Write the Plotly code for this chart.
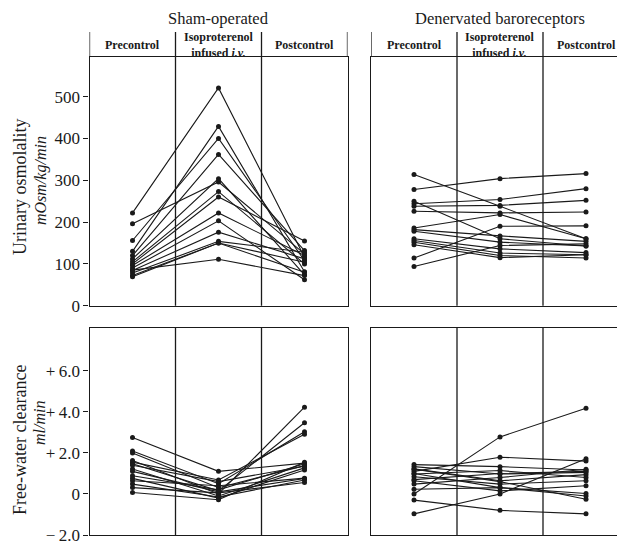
import plotly.graph_objects as go

# ---------------- data ----------------
phases = [0.5, 1.5, 2.5]  # Precontrol, Isoproterenol infused i.v., Postcontrol
phase_labels = ["Precontrol", "Isoproterenol<br>infused <i>i.v.</i>", "Postcontrol"]

# Urinary osmolality (mOsm/kg/min) - sham-operated
sham_osm_pre = [222, 196, 156, 130, 120, 112, 105, 100, 96, 90, 84, 78, 72, 69, 85]
sham_osm_mid = [521, 296, 400, 429, 362, 304, 273, 260, 222, 203, 176, 154, 150, 150, 111]
sham_osm_post = [116, 124, 108, 81, 132, 74, 100, 155, 120, 62, 112, 128, 104, 80, 72]

# Urinary osmolality - denervated baroreceptors
den_osm_pre = [314, 278, 250, 244, 238, 226, 186, 114, 94, 182, 178, 160, 156, 152, 146]
den_osm_mid = [238, 304, 160, 254, 240, 222, 218, 190, 144, 167, 152, 136, 126, 120, 115]
den_osm_post = [160, 316, 143, 280, 252, 224, 160, 191, 148, 154, 143, 127, 122, 114, 122]

# Free-water clearance (ml/min) - sham-operated
sham_fwc_pre = [2.75, 2.09, 1.99, 1.63, 1.55, 1.47, 1.22, 0.89, 0.76, 0.64, 0.48, 0.31, 0.07, 1.40, 1.10]
sham_fwc_mid = [1.10, 0.50, 0.30, 0.00, 0.68, 0.15, -0.10, 0.20, -0.20, 0.40, -0.15, 0.05, -0.28, 0.60, 0.10]
sham_fwc_post = [1.50, 3.03, 1.38, 4.23, 2.91, 3.47, 1.27, 1.47, 1.17, 0.77, 0.68, 0.56, 1.55, 1.35, 0.75]

# Free-water clearance - denervated baroreceptors
den_fwc_pre = [0.00, -0.97, 1.10, 1.43, 1.33, 1.22, 0.97, 0.84, 0.64, 0.48, -0.30, 0.23, 1.00, 1.20, 0.70]
den_fwc_mid = [2.78, 0.00, 1.79, 1.33, 0.97, 0.64, 1.14, 0.48, 0.15, 0.80, -0.80, 0.31, 0.31, 0.60, 1.00]
den_fwc_post = [4.18, 1.71, 1.60, 1.17, 1.05, 0.94, 0.80, 0.64, 0.40, 1.20, -0.97, 0.02, -0.10, -0.26, 1.10]

osm_ticks = [0, 100, 200, 300, 400, 500]
fwc_ticks = [-2, 0, 2, 4, 6]
fwc_ticktext = ["\u2212\u20092.0", "0", "+\u20092.0", "+\u20094.0", "+\u20096.0"]

# ---------------- figure ----------------
OFF = 8                      # page body margin in the browser
W, H = 625 - OFF, 541 - OFF
FONT = "Liberation Serif"
INK = "#1a1a1a"

def py(px):  # target pixel from top -> paper y
    return 1 - (px - OFF) / H

def pxx(px):
    return (px - OFF) / W

top_dom = [py(305.7), py(57)]
bot_dom = [py(535), py(327.7)]
left_dom = [pxx(89.5), pxx(347.5)]
right_dom = [pxx(371), 1.0]
right_range = [0, (625 - 371) / 86.0]

fig = go.Figure()

panels = [
    ("x", "y", sham_osm_pre, sham_osm_mid, sham_osm_post),
    ("x2", "y2", den_osm_pre, den_osm_mid, den_osm_post),
    ("x3", "y3", sham_fwc_pre, sham_fwc_mid, sham_fwc_post),
    ("x4", "y4", den_fwc_pre, den_fwc_mid, den_fwc_post),
]
for xa, ya, pre, mid, post in panels:
    for a, b, c in zip(pre, mid, post):
        fig.add_trace(go.Scatter(
            x=phases, y=[a, b, c], xaxis=xa, yaxis=ya, mode="lines+markers",
            line=dict(color=INK, width=1.1), marker=dict(color=INK, size=5),
            showlegend=False, hoverinfo="skip", cliponaxis=False))

axis_common = dict(showgrid=False, zeroline=False, showline=True, linecolor=INK, linewidth=1.3, automargin=False)
tick_font = dict(size=17, family=FONT)

fig.update_layout(
    width=W, height=H, margin=dict(l=0, r=0, t=0, b=0, autoexpand=False),
    paper_bgcolor="white", plot_bgcolor="white",
    font=dict(family=FONT, color=INK),
    xaxis=dict(domain=left_dom, range=[0, 3], anchor="y", mirror=True, showticklabels=False, ticks="", **axis_common),
    yaxis=dict(domain=top_dom, range=[0, 595], anchor="x", mirror=True, tickvals=osm_ticks, ticks="outside",
               ticklen=5, tickcolor=INK, tickfont=tick_font, ticklabeloverflow="allow", **axis_common),
    xaxis2=dict(domain=right_dom, range=right_range, anchor="y2", mirror=True, showticklabels=False, ticks="", **axis_common),
    yaxis2=dict(domain=top_dom, range=[0, 595], anchor="x2", showticklabels=False, ticks="", **axis_common),
    xaxis3=dict(domain=left_dom, range=[0, 3], anchor="y3", mirror=True, showticklabels=False, ticks="", **axis_common),
    yaxis3=dict(domain=bot_dom, range=[-2, 8.1], anchor="x3", mirror=True, tickvals=fwc_ticks, ticktext=fwc_ticktext,
                ticks="outside", ticklen=5, tickcolor=INK, tickfont=tick_font, ticklabeloverflow="allow", **axis_common),
    xaxis4=dict(domain=right_dom, range=right_range, anchor="y4", mirror=True, showticklabels=False, ticks="", **axis_common),
    yaxis4=dict(domain=bot_dom, range=[-2, 8.1], anchor="x4", showticklabels=False, ticks="", **axis_common),
)

shapes = []
header_top = py(32)
line_style = dict(color=INK, width=1.3)
# dividers (top panels, extended into header)
for xr in ["x", "x2"]:
    for xv in [1, 2]:
        shapes.append(dict(type="line", xref=xr, yref="paper", x0=xv, x1=xv, y0=top_dom[0], y1=header_top, line=line_style))
for xv in [0, 3]:
    shapes.append(dict(type="line", xref="x", yref="paper", x0=xv, x1=xv, y0=top_dom[1], y1=header_top, line=line_style))
shapes.append(dict(type="line", xref="x2", yref="paper", x0=0, x1=0, y0=top_dom[1], y1=header_top, line=line_style))
# dividers (bottom panels)
for xr in ["x3", "x4"]:
    for xv in [1, 2]:
        shapes.append(dict(type="line", xref=xr, yref="paper", x0=xv, x1=xv, y0=bot_dom[0], y1=bot_dom[1], line=line_style))
fig.update_layout(shapes=shapes)

ann = []
# group titles
ann.append(dict(text="Sham-operated", x=pxx(218), y=1.0, xref="paper", yref="paper",
                showarrow=False, font=dict(size=16.5, family=FONT), xanchor="center", yanchor="top", borderpad=0))
ann.append(dict(text="Denervated baroreceptors", x=pxx(500), y=1.0, xref="paper", yref="paper",
                showarrow=False, font=dict(size=16.5, family=FONT), xanchor="center", yanchor="top", borderpad=0))
# column headers
for xr in ["x", "x2"]:
    for xv, lab in zip(phases, phase_labels):
        ann.append(dict(text="<b>" + lab + "</b>", x=xv, y=py(45.5), xref=xr, yref="paper", showarrow=False,
                        font=dict(size=12, family=FONT), xanchor="center", yanchor="middle", borderpad=0))
# y-axis titles
ann.append(dict(text="Urinary osmolality", x=pxx(20), y=py(187), xref="paper", yref="paper", textangle=-90,
                showarrow=False, font=dict(size=18, family=FONT), xanchor="center", yanchor="middle"))
ann.append(dict(text="<i>mOsm/kg/min</i>", x=pxx(41), y=py(181), xref="paper", yref="paper", textangle=-90,
                showarrow=False, font=dict(size=16, family=FONT), xanchor="center", yanchor="middle"))
ann.append(dict(text="Free-water clearance", x=pxx(20), y=py(440), xref="paper", yref="paper", textangle=-90,
                showarrow=False, font=dict(size=18, family=FONT), xanchor="center", yanchor="middle"))
ann.append(dict(text="<i>ml/min</i>", x=pxx(39), y=py(423), xref="paper", yref="paper", textangle=-90,
                showarrow=False, font=dict(size=16, family=FONT), xanchor="center", yanchor="middle"))
fig.update_layout(annotations=ann)

fig.write_html("out.html")
